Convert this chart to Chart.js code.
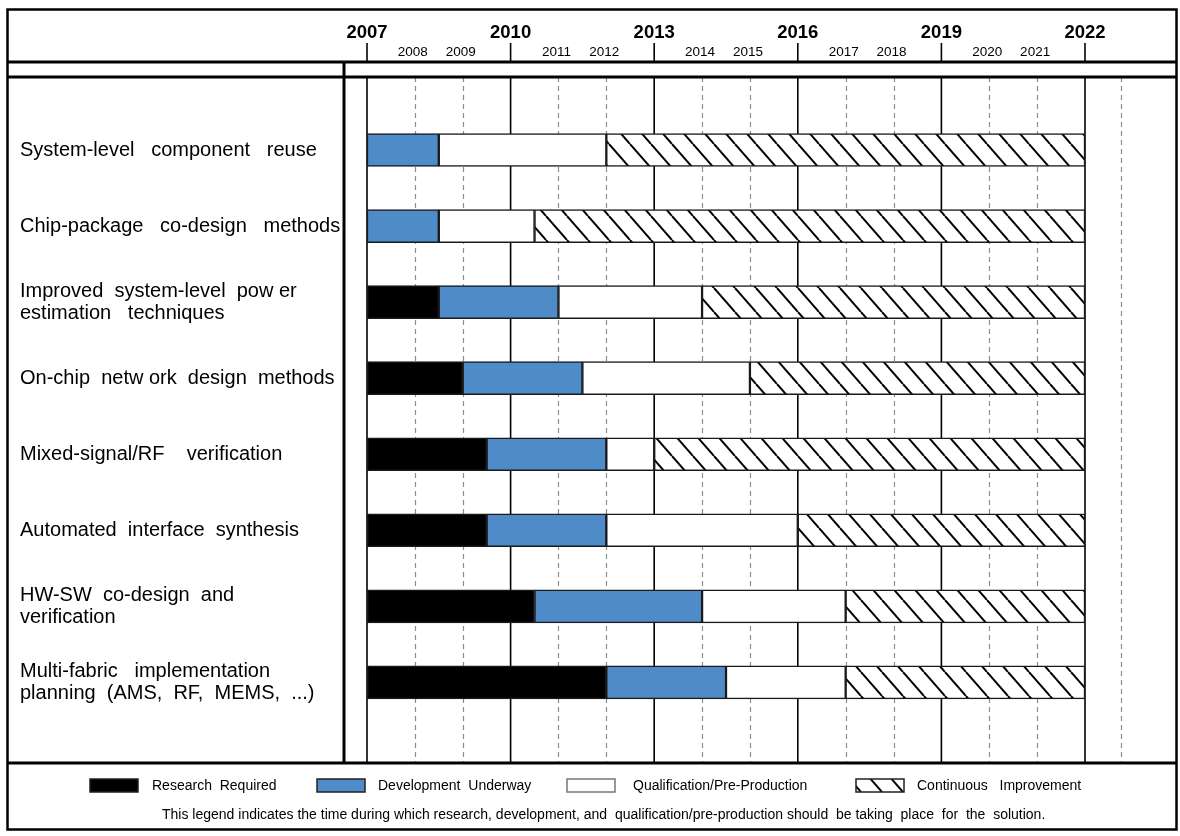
<!DOCTYPE html>
<html>
<head>
<meta charset="utf-8">
<script src="https://cdn.jsdelivr.net/npm/chart.js@4.4.1/dist/chart.umd.min.js"></script>
<style>
  body { margin: 0; background: #fff; }
</style>
</head>
<body>
<canvas id="roadmap" width="1180" height="836"></canvas>
<script>
// rows of the roadmap (multi-line labels are arrays)
var categories = [
  'System-level   component   reuse',
  'Chip-package   co-design   methods',
  ['Improved  system-level  pow er', 'estimation   techniques'],
  'On-chip  netw ork  design  methods',
  'Mixed-signal/RF    verification',
  'Automated  interface  synthesis',
  ['HW-SW  co-design  and', 'verification'],
  ['Multi-fabric   implementation', 'planning  (AMS,  RF,  MEMS,  ...)']
];

// [start year, end year] of every phase, null = phase not shown
var research = [null, null, [2007, 2008.5], [2007, 2009], [2007, 2009.5], [2007, 2009.5], [2007, 2010.5], [2007, 2012]];
var development = [[2007, 2008.5], [2007, 2008.5], [2008.5, 2011], [2009, 2011.5], [2009.5, 2012], [2009.5, 2012], [2010.5, 2014], [2012, 2014.5]];
var qualification = [[2008.5, 2012], [2008.5, 2010.5], [2011, 2014], [2011.5, 2015], [2012, 2013], [2012, 2016], [2014, 2017], [2014.5, 2017]];
var improvement = [[2012, 2022], [2010.5, 2022], [2014, 2022], [2015, 2022], [2013, 2022], [2016, 2022], [2017, 2022], [2017, 2022]];

var majorYears = [2007, 2010, 2013, 2016, 2019, 2022];
var minorYears = [2008, 2009, 2011, 2012, 2014, 2015, 2017, 2018, 2020, 2021];
var extraGrid = [2022.75];

var legendNames = ['Research  Required', 'Development  Underway', 'Qualification/Pre-Production', 'Continuous   Improvement'];
var footnote = 'This legend indicates the time during which research, development, and  qualification/pre-production should  be taking  place  for  the  solution.';

var FONT = "'Liberation Sans', Arial, sans-serif";

function makeHatch(w, h) {
  var c = document.createElement('canvas');
  c.width = w; c.height = h;
  var g = c.getContext('2d');
  g.fillStyle = '#fff';
  g.fillRect(0, 0, w, h);
  g.strokeStyle = '#000';
  g.lineWidth = 2;
  for (var k = -1; k <= 1; k++) {
    g.beginPath();
    g.moveTo(k * w, 0);
    g.lineTo(k * w + w, h);
    g.stroke();
  }
  return g.createPattern(c, 'repeat');
}
var hatch = makeHatch(21, 24);

var gridTop = 77, gridBottom = 763;

var framePlugin = {
  id: 'frame',
  beforeDraw: function(chart) {
    var ctx = chart.ctx;
    ctx.save();
    ctx.fillStyle = '#fff';
    ctx.fillRect(0, 0, chart.width, chart.height);
    ctx.restore();
  },
  beforeDatasetsDraw: function(chart) {
    var ctx = chart.ctx, x = chart.scales.x;
    ctx.save();
    // dashed year lines
    ctx.strokeStyle = '#8c8c8c';
    ctx.lineWidth = 1.2;
    ctx.setLineDash([5, 4]);
    minorYears.concat(extraGrid).forEach(function(y) {
      var px = Math.round(x.getPixelForValue(y)) + 0.5;
      ctx.beginPath();
      ctx.moveTo(px, gridTop);
      ctx.lineTo(px, gridBottom);
      ctx.stroke();
    });
    // solid year lines
    ctx.setLineDash([]);
    ctx.strokeStyle = '#000';
    ctx.lineWidth = 1.6;
    majorYears.forEach(function(y) {
      var px = x.getPixelForValue(y);
      ctx.beginPath();
      ctx.moveTo(px, gridTop);
      ctx.lineTo(px, gridBottom);
      ctx.stroke();
    });
    ctx.restore();
  },
  afterDraw: function(chart) {
    var ctx = chart.ctx, x = chart.scales.x;
    ctx.save();
    ctx.strokeStyle = '#000';

    // header ticks and labels
    ctx.lineWidth = 1.6;
    ctx.fillStyle = '#000';
    ctx.textAlign = 'center';
    ctx.textBaseline = 'alphabetic';
    majorYears.forEach(function(y) {
      var px = x.getPixelForValue(y);
      ctx.beginPath();
      ctx.moveTo(px, 43);
      ctx.lineTo(px, 62);
      ctx.stroke();
      ctx.font = 'bold 18.5px ' + FONT;
      ctx.fillText(String(y), px, 37.5);
    });
    ctx.font = '13.5px ' + FONT;
    minorYears.forEach(function(y) {
      ctx.fillText(String(y), x.getPixelForValue(y) - 2, 56);
    });

    // frame lines
    ctx.lineWidth = 3;
    ctx.beginPath();
    ctx.moveTo(7, 62); ctx.lineTo(1177, 62);
    ctx.moveTo(7, 77); ctx.lineTo(1177, 77);
    ctx.moveTo(7, 763); ctx.lineTo(1177, 763);
    ctx.moveTo(344, 62); ctx.lineTo(344, 763);
    ctx.stroke();
    ctx.lineWidth = 2.5;
    ctx.strokeRect(7.5, 9.5, 1169, 820);

    // legend
    var ds = chart.data.datasets;
    var boxX = [90, 317, 567, 856];
    var textX = [152, 378, 633, 917];
    ctx.textAlign = 'left';
    ctx.font = '14px ' + FONT;
    ds.forEach(function(d, i) {
      ctx.fillStyle = d.backgroundColor;
      ctx.fillRect(boxX[i], 779, 48, 13);
      ctx.lineWidth = 1.5;
      ctx.strokeStyle = i === 2 ? '#777' : '#222';
      ctx.strokeRect(boxX[i], 779, 48, 13);
      ctx.fillStyle = '#000';
      ctx.fillText(legendNames[i], textX[i], 790);
    });
    ctx.font = '14px ' + FONT;
    ctx.fillText(footnote, 162, 819);
    ctx.restore();
  }
};

function barSet(label, data, color) {
  return {
    label: label,
    data: data,
    backgroundColor: color,
    borderColor: '#1a1a1a',
    borderWidth: 1.5,
    borderSkipped: false,
    barThickness: 33,
    grouped: false
  };
}

new Chart(document.getElementById('roadmap'), {
  type: 'bar',
  data: {
    labels: categories,
    datasets: [
      barSet('Research Required', research, '#000000'),
      barSet('Development Underway', development, '#4f8bc9'),
      barSet('Qualification/Pre-Production', qualification, '#ffffff'),
      barSet('Continuous Improvement', improvement, hatch)
    ]
  },
  options: {
    indexAxis: 'y',
    responsive: false,
    animation: false,
    layout: { padding: { left: 20, right: 95, top: 112, bottom: 115.6 } },
    plugins: {
      legend: { display: false },
      tooltip: { enabled: false }
    },
    scales: {
      x: {
        type: 'linear',
        min: 2007,
        max: 2022,
        display: false
      },
      y: {
        grid: { display: false },
        border: { display: false },
        ticks: {
          crossAlign: 'far',
          color: '#000',
          font: { family: FONT, size: 20, lineHeight: 1.1 }
        },
        afterFit: function(scale) { scale.width = 347; }
      }
    }
  },
  plugins: [framePlugin]
});
</script>
</body>
</html>
